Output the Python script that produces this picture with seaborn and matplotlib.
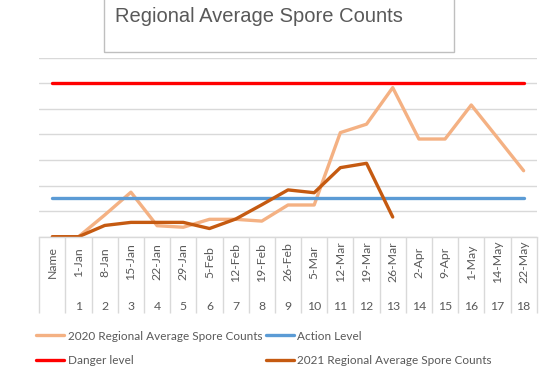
import numpy as np
import matplotlib
matplotlib.use("Agg")
import matplotlib.pyplot as plt
import matplotlib.transforms as mtransforms
from matplotlib.patches import Rectangle
import seaborn as sns

# data
categories = ["Name", "1-Jan", "8-Jan", "15-Jan", "22-Jan", "29-Jan", "5-Feb", "12-Feb",
              "19-Feb", "26-Feb", "5-Mar", "12-Mar", "19-Mar", "26-Mar", "2-Apr",
              "9-Apr", "1-May", "14-May", "22-May"]
week_numbers = ["", "1", "2", "3", "4", "5", "6", "7", "8", "9", "10", "11", "12",
                "13", "14", "15", "16", "17", "18"]
counts_2020 = [0, 0, 0.85, 1.74, 0.43, 0.37, 0.68, 0.68, 0.61, 1.24, 1.24, 4.07,
               4.40, 5.83, 3.82, 3.82, 5.15, 3.87, 2.58]
counts_2021 = [0, 0, 0.44, 0.56, 0.56, 0.56, 0.32, 0.69, 1.25, 1.83, 1.72, 2.70,
               2.87, 0.77]
action_level = 1.5
danger_level = 6

sns.set_style("white")
plt.rcParams["font.family"] = ["Lato", "DejaVu Sans"]

fig = plt.figure(figsize=(5.48, 3.77), dpi=100)
W, H = 548, 377
ax = fig.add_axes([39.3 / W, 1 - 236.7 / H, (536.7 - 39.3) / W, (236.7 - 57.7) / H])

x_all = np.arange(len(categories))
lw = 2.4

sns.lineplot(x=np.arange(len(counts_2020)), y=counts_2020, ax=ax,
             color="#F4B183", linewidth=lw, label="2020 Regional Average Spore Counts")
sns.lineplot(x=x_all, y=[action_level] * len(categories), ax=ax,
             color="#5B9BD5", linewidth=lw, label="Action Level")
sns.lineplot(x=x_all, y=[danger_level] * len(categories), ax=ax,
             color="#FF0000", linewidth=lw, label="Danger level")
sns.lineplot(x=np.arange(len(counts_2021)), y=counts_2021, ax=ax,
             color="#C55A11", linewidth=lw, label="2021 Regional Average Spore Counts")

ax.set_xlim(-0.5, len(categories) - 0.5)
ax.set_ylim(0, 7)
ax.set_yticks(range(0, 8))
ax.set_yticklabels([])
ax.tick_params(axis="y", length=0)
ax.grid(axis="y", color="#D9D9D9", linewidth=1)
ax.set_axisbelow(True)
for s in ["top", "right", "left"]:
    ax.spines[s].set_visible(False)
ax.spines["bottom"].set_color("#D9D9D9")
ax.spines["bottom"].set_linewidth(1)

# two-level category axis
ax.set_xticks(x_all)
ax.set_xticklabels([])
ax.tick_params(axis="x", which="major", length=0)
ax.set_xticks(np.arange(len(categories) + 1) - 0.5, minor=True)
ax.tick_params(axis="x", which="minor", bottom=True, length=76 * 0.72, width=1,
               color="#D9D9D9", direction="out")
trans = mtransforms.blended_transform_factory(ax.transData, ax.transAxes)
for i, (c, n) in enumerate(zip(categories, week_numbers)):
    ax.text(i, (236.7 - 262) / 179, c, rotation=90, ha="center", va="center",
            fontsize=8.8, color="#595959", transform=trans)
    ax.text(i, (236.7 - 306) / 179, n, ha="center", va="center",
            fontsize=8.8, color="#595959", transform=trans)

ax.set_xlabel("")
ax.set_ylabel("")

# legend: row 1 = 2020, Action ; row 2 = Danger, 2021
h, lab = ax.get_legend_handles_labels()
order = [0, 2, 1, 3]
ax.legend([h[k] for k in order], [lab[k] for k in order], ncol=2,
          loc="upper left", bbox_to_anchor=(25 / W, 1 - 320 / H),
          bbox_transform=fig.transFigure, frameon=False, fontsize=8.5,
          handlelength=2.4, handletextpad=0.3, columnspacing=0.3,
          labelspacing=1.15, labelcolor="#595959")

# title box
fig.patches.append(Rectangle((104 / W, 1 - 52 / H), 350 / W, 60 / H,
                             transform=fig.transFigure, fill=False,
                             edgecolor="#BFBFBF", linewidth=1))
fig.text(115 / W, 1 - 17 / H, "Regional Average Spore Counts", fontsize=14.5,
         color="#595959", va="center", ha="left", family="Liberation Sans")

fig.savefig("out.png", dpi=100)
